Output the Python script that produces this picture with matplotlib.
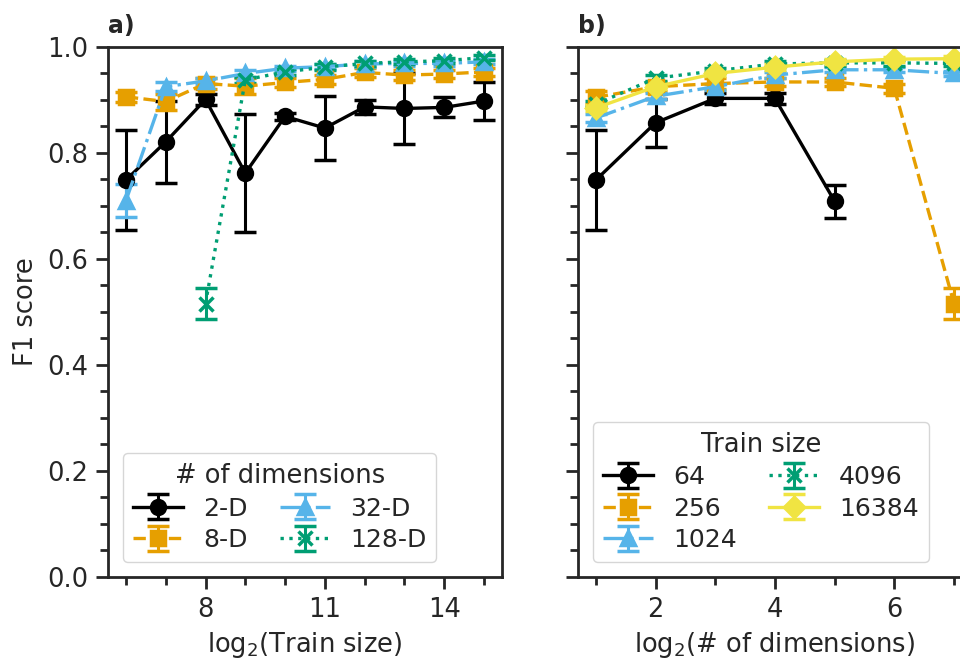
import numpy as np
import matplotlib.pyplot as plt
from matplotlib.ticker import MultipleLocator

plt.rcParams['font.family'] = ['DejaVu Sans']
plt.rcParams['font.size'] = 18.5
for k in ['text.color', 'axes.labelcolor', 'xtick.color', 'ytick.color', 'axes.edgecolor']:
    plt.rcParams[k] = '#262626'

# panel a: F1 vs log2(train size), one line per dimensionality
train_log2 = [6, 7, 8, 9, 10, 11, 12, 13, 14, 15]
dim_labels = ['2-D', '8-D', '32-D', '128-D']
f1_2d = [0.749, 0.821, 0.901, 0.762, 0.869, 0.847, 0.887, 0.884, 0.886, 0.898]
err_2d = [0.094, 0.077, 0.010, 0.112, 0.006, 0.061, 0.013, 0.067, 0.019, 0.035]
f1_8d = [0.906, 0.897, 0.931, 0.926, 0.933, 0.939, 0.952, 0.947, 0.949, 0.953]
err_8d = [0.010, 0.015, 0.010, 0.015, 0.008, 0.008, 0.008, 0.010, 0.008, 0.008]
f1_32d = [0.710, 0.925, 0.936, 0.950, 0.960, 0.963, 0.968, 0.969, 0.969, 0.972]
err_32d = [0.031, 0.008, 0.006, 0.006, 0.005, 0.005, 0.005, 0.005, 0.005, 0.005]
train_log2_128 = [8, 9, 10, 11, 12, 13, 14, 15]
f1_128d = [0.516, 0.938, 0.953, 0.962, 0.969, 0.972, 0.974, 0.980]
err_128d = [0.030, 0.006, 0.005, 0.005, 0.005, 0.005, 0.005, 0.005]

# panel b: F1 vs log2(# of dimensions), one line per train size
size_labels = ['64', '256', '1024', '4096', '16384']
dims_log2 = [1, 2, 3, 4, 5, 6, 7]
f1_64 = [0.749, 0.857, 0.903, 0.903, 0.709]
err_64 = [0.094, 0.045, 0.010, 0.010, 0.031]
f1_256 = [0.905, 0.925, 0.931, 0.934, 0.934, 0.922, 0.516]
err_256 = [0.012, 0.008, 0.010, 0.008, 0.008, 0.008, 0.030]
f1_1024 = [0.866, 0.907, 0.925, 0.947, 0.957, 0.957, 0.950]
err_1024 = [0.008, 0.006, 0.006, 0.005, 0.005, 0.005, 0.005]
f1_4096 = [0.892, 0.941, 0.955, 0.968, 0.970, 0.970, 0.969]
err_4096 = [0.006, 0.006, 0.005, 0.005, 0.005, 0.005, 0.005]
f1_16384 = [0.885, 0.925, 0.950, 0.962, 0.972, 0.977, 0.978]
err_16384 = [0.005, 0.005, 0.005, 0.005, 0.005, 0.005, 0.005]

colors = ['#000000', '#E69F00', '#56B4E9', '#009E73', '#F0E442']
markers = ['o', 's', '^', 'x', 'D']
styles = ['-', '--', '-.', ':', '-']

fig = plt.figure(figsize=(9.6, 6.58), dpi=100)
ax_a = fig.add_axes([0.1125, 0.1231, 0.4104, 0.8055])
ax_b = fig.add_axes([0.602, 0.1231, 0.4104, 0.8055])

kw = dict(lw=2.4, ms=10, capsize=8, elinewidth=2.2, capthick=2.2, mew=2.5)

series_a = [(train_log2, f1_2d, err_2d), (train_log2, f1_8d, err_8d),
            (train_log2, f1_32d, err_32d), (train_log2_128, f1_128d, err_128d)]
for i, (x, y, e) in enumerate(series_a):
    ax_a.errorbar(x, y, yerr=e, color=colors[i], marker=markers[i],
                  ls=styles[i], label=dim_labels[i], **kw)

series_b = [(f1_64, err_64), (f1_256, err_256), (f1_1024, err_1024),
            (f1_4096, err_4096), (f1_16384, err_16384)]
for i, (y, e) in enumerate(series_b):
    ax_b.errorbar(dims_log2[:len(y)], y, yerr=e, color=colors[i], marker=markers[i],
                  ls=styles[i], label=size_labels[i], **kw)

for ax in (ax_a, ax_b):
    ax.set_ylim(0, 1)
    ax.yaxis.set_major_locator(MultipleLocator(0.2))
    ax.yaxis.set_minor_locator(MultipleLocator(0.05))
    ax.xaxis.set_minor_locator(MultipleLocator(1))
    ax.tick_params(which='major', length=8.4, width=2, pad=6)
    ax.tick_params(which='minor', length=5.5, width=2)
    for s in ax.spines.values():
        s.set_linewidth(2)

ax_a.set_xlim(5.55, 15.45)
ax_a.set_xticks([8, 11, 14])
ax_b.set_xlim(0.7, 7.3)
ax_b.set_xticks([2, 4, 6])
ax_b.set_yticklabels([])

ax_a.set_ylabel('F1 score', labelpad=6)
ax_a.set_xlabel('log$_2$(Train size)', labelpad=5)
ax_b.set_xlabel('log$_2$(# of dimensions)', labelpad=5)
ax_a.set_title('a)', loc='left', fontweight='bold', fontsize=17, pad=10)
ax_b.set_title('b)', loc='left', fontweight='bold', fontsize=17, pad=10)

leg_kw = dict(ncol=2, loc='lower left', fontsize=18, title_fontsize=18.5,
              columnspacing=1.3, labelspacing=0.3, borderaxespad=0.6)
ax_a.legend(title='# of dimensions', **leg_kw)
ax_b.legend(title='Train size', **leg_kw)

fig.savefig('out.png', dpi=100)
